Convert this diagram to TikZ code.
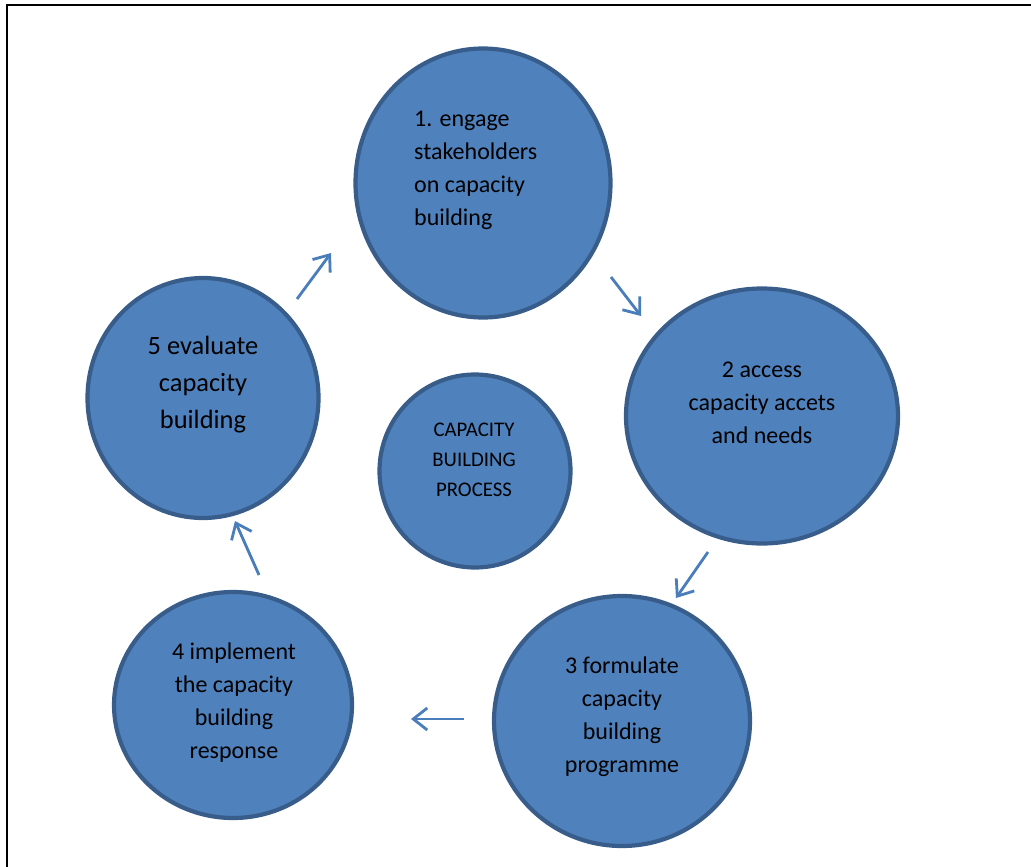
\documentclass[tikz,border=0pt]{standalone}
\usepackage{fontspec}
\setmainfont{Carlito}
\usetikzlibrary{shapes.geometric,arrows.meta}

\definecolor{stepfill}{HTML}{4F81BD}
\definecolor{stepline}{HTML}{385D8A}
\definecolor{arrowblue}{HTML}{4A7EBB}

\begin{document}
\begin{tikzpicture}[
	x=1pt, y=-1pt,
	stepnode/.style={ellipse, draw=stepline, fill=stepfill, line width=4.2pt, inner sep=0pt},
	steptext/.style={inner sep=0pt, text=black, align=center, font=\fontsize{24}{33}\selectfont},
	cyclearrow/.style={draw=arrowblue, line width=2.8pt, -{Straight Barb[length=14pt, width=22pt, line width=2.8pt]}},
	]
	\useasboundingbox (0,0) rectangle (1031,867);
	%Frame
	\draw[line width=2.8pt, line cap=rect] (7,867) -- (7,5) -- (1031,5);
	
	%Nodes
	\node[stepnode, minimum width=255pt, minimum height=269pt] (c1) at (483,183) {};
	\node[stepnode, minimum width=272pt, minimum height=255pt] (c2) at (762,416) {};
	\node[stepnode, minimum width=256pt, minimum height=250pt] (c3) at (622,721) {};
	\node[stepnode, minimum width=238pt, minimum height=226pt] (c4) at (233,705) {};
	\node[stepnode, minimum width=231pt, minimum height=240pt] (c5) at (203,398) {};
	\node[stepnode, minimum width=191pt, minimum height=193pt] (c0) at (475,471) {};
	
	%Texts
	\node[steptext, align=left, anchor=west] (t1) at (414,170) {1. engage\\stakeholders\\on capacity\\building};
	\node[steptext] (t2) at (762,403) {2 access\\capacity accets\\and needs};
	\node[steptext] (t3) at (622,717) {3 formulate\\capacity\\building\\programme};
	\node[steptext] (t4) at (234,703) {4 implement\\the capacity\\building\\response};
	\node[steptext, font=\fontsize{26.4}{37}\selectfont] (t5) at (203,385) {5 evaluate\\capacity\\building};
	\node[steptext, font=\fontsize{20.8}{30}\selectfont] (t0) at (474,460) {CAPACITY\\BUILDING\\PROCESS};
	
	%Arrow ends
	\coordinate (a1s) at (297,299); \coordinate (a1e) at (331,253);
	\coordinate (a2s) at (611,277); \coordinate (a2e) at (641,316);
	\coordinate (a3s) at (708,552); \coordinate (a3e) at (676,598);
	\coordinate (a4s) at (464,719); \coordinate (a4e) at (411,719);
	\coordinate (a5s) at (259,575); \coordinate (a5e) at (235,521);
	
	%Lines
	\draw[cyclearrow] (a1s) -- (a1e);
	\draw[cyclearrow] (a2s) -- (a2e);
	\draw[cyclearrow] (a3s) -- (a3e);
	\draw[cyclearrow] (a4s) -- (a4e);
	\draw[cyclearrow] (a5s) -- (a5e);
\end{tikzpicture}
\end{document}
